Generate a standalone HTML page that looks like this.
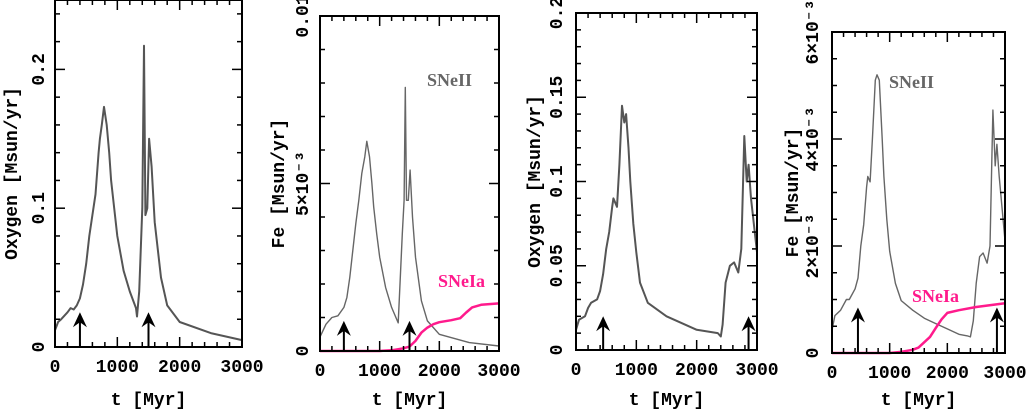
<!DOCTYPE html>
<html><head><meta charset="utf-8"><style>
body{margin:0;background:#fff}
svg{display:block;font-family:"Liberation Mono",monospace;font-weight:bold}
</style></head><body>
<svg id="c" width="1026" height="412" viewBox="0 0 1026 412"></svg>
<script>
// Panel 1: oxygen
const p1T=[0,50,100,200,250,300,350,400,450,500,550,600,650,700,720,750,786,830,870,900,950,1000,1100,1200,1300,1316,1350,1400,1428,1450,1480,1509,1550,1600,1700,1800,2000,2500,3000];
const p1V=[0.012,0.018,0.02,0.025,0.028,0.027,0.03,0.035,0.045,0.06,0.08,0.095,0.11,0.14,0.15,0.16,0.173,0.16,0.14,0.12,0.1,0.08,0.055,0.04,0.028,0.022,0.04,0.1,0.217,0.095,0.1,0.15,0.13,0.09,0.05,0.03,0.018,0.01,0.005];
// Panel 2: Fe (units 1e-3)
const p2T=[0,100,200,300,400,450,500,550,600,650,700,750,785,830,870,900,950,1000,1100,1200,1310,1340,1380,1410,1430,1450,1480,1510,1550,1600,1700,1800,2000,2500,3000];
const p2V=[0.42,0.8,1.0,1.05,1.3,1.6,2.2,3.0,3.8,4.5,5.3,5.8,6.26,5.8,5.0,4.3,3.5,2.8,1.9,1.3,0.84,2.0,3.5,4.5,7.87,4.5,4.5,5.4,4.0,2.8,1.5,0.9,0.5,0.25,0.15];
const p2IaT=[0,1000,1200,1400,1500,1600,1700,1800,1900,2000,2200,2350,2450,2550,2700,3000];
const p2IaV=[0,0,0.02,0.08,0.13,0.3,0.55,0.7,0.8,0.86,0.92,0.98,1.15,1.3,1.38,1.42];
// Panel 3: oxygen
const p3T=[0,50,150,200,250,350,400,450,500,550,600,620,680,720,763,800,830,870,900,950,1000,1060,1190,1500,2000,2350,2400,2430,2480,2550,2620,2690,2740,2790,2830,2860,2900,3000];
const p3V=[0.012,0.018,0.02,0.025,0.028,0.03,0.035,0.045,0.06,0.07,0.085,0.09,0.085,0.11,0.145,0.135,0.14,0.12,0.1,0.075,0.058,0.04,0.028,0.02,0.012,0.01,0.008,0.015,0.04,0.05,0.052,0.046,0.06,0.127,0.1,0.11,0.09,0.058];
// Panel 4: Fe (units 1e-3)
const p4T=[0,50,150,250,300,400,450,500,550,600,620,660,700,750,780,820,870,900,950,1000,1100,1200,1400,1600,1800,2000,2200,2350,2400,2450,2500,2560,2620,2690,2740,2790,2830,2860,2900,3000];
const p4V=[0.43,0.7,0.8,1.0,1.0,1.2,1.4,2.0,2.4,3.1,3.3,3.2,4.0,5.1,5.2,5.1,4.0,3.3,2.5,1.9,1.3,0.98,0.8,0.65,0.55,0.45,0.35,0.32,0.3,0.6,1.3,1.8,1.87,1.68,2.0,4.54,3.5,3.9,3.3,2.1];
const p4IaT=[0,1000,1200,1400,1500,1700,1800,1900,2000,2200,2500,3000];
const p4IaV=[0,0,0.02,0.06,0.1,0.3,0.47,0.63,0.75,0.8,0.86,0.93];

const svg=document.getElementById('c');
const NS='http://www.w3.org/2000/svg';
function mk(tag,attrs,parent){const e=document.createElementNS(NS,tag);for(const k in attrs)e.setAttribute(k,attrs[k]);(parent||svg).appendChild(e);return e;}

const panels=[
 {x0:55,x1:242,y0:347,y1:0,ymax:0.25,ytitle:'Oxygen [Msun/yr]',yt:[[0,'0'],[0.1,'0.1'],[0.2,'0.2']],minor:0.02,lx:38,tx:11,series:[[p1T,p1V,'#555',2]],arrows:[400,1500],atip:0.025,labels:[]},
 {x0:320,x1:499,y0:351,y1:16,ymax:10,ytitle:'Fe [Msun/yr]',yt:[[0,'0'],[5,'5×10⁻³'],[10,'0.01']],minor:1,lx:302,tx:278,series:[[p2T,p2V,'#666',1.4],[p2IaT,p2IaV,'#ff1a8c',2.5]],arrows:[400,1500],atip:0.9,labels:[['SNeII',427,86,'#666'],['SNeIa',438,287,'#ff1a8c']]},
 {x0:576,x1:757,y0:350,y1:13,ymax:0.2,ytitle:'Oxygen [Msun/yr]',yt:[[0,'0'],[0.05,'0.05'],[0.1,'0.1'],[0.15,'0.15'],[0.2,'0.2']],minor:0.01,lx:556,tx:534,series:[[p3T,p3V,'#555',2]],arrows:[450,2860],atip:0.02,labels:[]},
 {x0:832,x1:1005,y0:353,y1:32,ymax:6,ytitle:'Fe [Msun/yr]',yt:[[0,'0'],[2,'2×10⁻³'],[4,'4×10⁻³'],[6,'6×10⁻³']],minor:0.5,lx:812,tx:792,series:[[p4T,p4V,'#666',1.4],[p4IaT,p4IaV,'#ff1a8c',2.5]],arrows:[450,2860],atip:0.85,labels:[['SNeII',889,88,'#666'],['SNeIa',912,302,'#ff1a8c']]}
];

panels.forEach((p,i)=>{
 const g=mk('g',{});
 
 
 const X=t=>p.x0+t/3000*(p.x1-p.x0);
 const Y=v=>p.y0-v/p.ymax*(p.y0-p.y1);
 p.series.forEach((s,k)=>{
  const d=s[0].map((t,j)=>(j?'L':'M')+X(t).toFixed(1)+','+Y(s[1][j]).toFixed(1)).join('');
  const path=mk('path',{d:d,fill:'none',stroke:s[2],'stroke-width':s[3],'stroke-linejoin':'round'},g);
  
  
 });
 p.arrows.forEach(t=>{
  const ax=X(t),ty=Y(p.atip);
  const a=mk('g',{},g);
  
  
  mk('line',{x1:ax,y1:p.y0,x2:ax,y2:ty+4,stroke:'#000','stroke-width':2},a);
  mk('path',{d:`M${ax},${ty} L${ax-7},${ty+15} L${ax},${ty+10} L${ax+7},${ty+15}Z`,fill:'#000'},a);
 });
 const fr=mk('rect',{x:p.x0,y:p.y1,width:p.x1-p.x0,height:p.y0-p.y1,fill:'none',stroke:'#000','stroke-width':2},g);
 
 
 for(let t=0;t<=3000;t+=200){const maj=t%1000===0;const L=maj?10:5;
  mk('line',{x1:X(t),y1:p.y0,x2:X(t),y2:p.y0-L,stroke:'#000','stroke-width':1.5},g);
  mk('line',{x1:X(t),y1:p.y1,x2:X(t),y2:p.y1+L,stroke:'#000','stroke-width':1.5},g);}
 [0,1000,2000,3000].forEach(t=>{const tx=mk('text',{x:X(t),y:p.y0+25,'text-anchor':'middle','font-size':18},g);tx.textContent=t;
  });
 const n=Math.round(p.ymax/p.minor);
 for(let k=0;k<=n;k++){const v=k*p.minor;const maj=p.yt.some(q=>Math.abs(q[0]-v)<1e-9);const L=maj?10:5;
  mk('line',{x1:p.x0,y1:Y(v),x2:p.x0+L,y2:Y(v),stroke:'#000','stroke-width':1.5},g);
  mk('line',{x1:p.x1,y1:Y(v),x2:p.x1-L,y2:Y(v),stroke:'#000','stroke-width':1.5},g);}
 p.yt.forEach(q=>{const yy=Y(q[0]);const tx=mk('text',{x:p.lx,y:yy,'text-anchor':'middle','font-size':18,transform:`rotate(-90 ${p.lx} ${yy})`,dy:6},g);tx.textContent=q[1];
  });
 const cy=(p.y0+p.y1)/2;
 const yt=mk('text',{x:p.tx,y:cy,'text-anchor':'middle','font-size':18,transform:`rotate(-90 ${p.tx} ${cy})`,dy:6},g);yt.textContent=p.ytitle;
 
 const xt=mk('text',{x:(p.x0+p.x1)/2,y:405,'text-anchor':'middle','font-size':18},g);xt.textContent='t [Myr]';
 
 p.labels.forEach(l=>{const tx=mk('text',{x:l[1],y:l[2],fill:l[3],'font-size':18,'font-weight':'bold','font-family':'Liberation Serif, serif'},g);tx.textContent=l[0];
  });
});
</script>
</body></html>
